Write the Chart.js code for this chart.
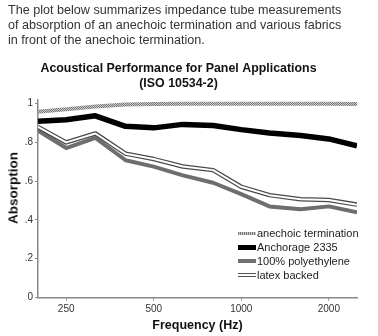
<!DOCTYPE html>
<html>
<head>
<meta charset="utf-8">
<script src="https://cdn.jsdelivr.net/npm/chart.js@4"></script>
<style>
  html, body { margin: 0; padding: 0; background: #fff; }
  #wrap { position: relative; width: 378px; height: 336px; overflow: hidden; font-family: "Liberation Sans", Arial, sans-serif; }
  #chart { position: absolute; left: 0; top: 0; }
  #intro { position: absolute; left: 8px; top: 3px; font-size: 12.6px; line-height: 15px; color: #333; white-space: nowrap; }
  #ytitle { position: absolute; left: 13px; top: 188px; transform: translate(-50%, -50%) rotate(-90deg); font-size: 13.5px; font-weight: bold; color: #111; white-space: nowrap; }
  #legend { position: absolute; left: 238px; top: 226px; font-size: 11px; color: #222; }
  .item { height: 14px; line-height: 14px; display: flex; align-items: center; }
  .sw { width: 18px; margin-right: 1px; box-sizing: border-box; }
  .sw.an { height: 3px; background: repeating-linear-gradient(90deg, #777 0 1px, #c8c8c8 1px 2px); }
  .sw.ak { height: 5px; background: #000; }
  .sw.pe { height: 4px; background: #707070; }
  .sw.lx { height: 4px; border-top: 1px solid #555; border-bottom: 1px solid #555; background: #fff; }
</style>
</head>
<body>
<div id="wrap">
  <canvas id="chart" width="378" height="336"></canvas>
  <div id="intro">The plot below summarizes impedance tube measurements<br>of absorption of an anechoic termination and various fabrics<br>in front of the anechoic termination.</div>
  <div id="ytitle"></div>
  <div id="legend"></div>
</div>
<script>
const freqs = [200, 250, 315, 400, 500, 630, 800, 1000, 1250, 1600, 2000, 2500];
const anechoic = [0.958, 0.971, 0.985, 0.995, 0.998, 1.0, 1.0, 1.0, 1.0, 1.0, 0.999, 0.998];
const anchorage = [0.909, 0.917, 0.937, 0.883, 0.875, 0.893, 0.887, 0.866, 0.849, 0.836, 0.818, 0.783];
const polyethylene = [0.861, 0.771, 0.823, 0.708, 0.675, 0.630, 0.592, 0.533, 0.470, 0.455, 0.470, 0.440];
const latex = [0.880, 0.800, 0.846, 0.742, 0.714, 0.676, 0.657, 0.571, 0.528, 0.507, 0.503, 0.479];
const seriesNames = ['anechoic termination', 'Anchorage 2335', '100% polyethylene', 'latex backed'];
const xTicks = [250, 500, 1000, 2000];
const yTicks = [0, 0.2, 0.4, 0.6, 0.8, 1];
const chartTitle = ['Acoustical Performance for Panel Applications', '(ISO 10534-2)'];
const xTitle = 'Frequency (Hz)';
const yTitle = 'Absorption';

document.getElementById('ytitle').textContent = yTitle;

// legend (HTML)
const swClass = ['an', 'ak', 'pe', 'lx'];
const lg = document.getElementById('legend');
seriesNames.forEach((n, i) => {
  const d = document.createElement('div'); d.className = 'item';
  const s = document.createElement('div'); s.className = 'sw ' + swClass[i];
  const t = document.createElement('span'); t.textContent = n;
  d.appendChild(s); d.appendChild(t); lg.appendChild(d);
});

// textured pattern for anechoic line
const pc = document.createElement('canvas'); pc.width = 2; pc.height = 2;
const pctx = pc.getContext('2d');
pctx.fillStyle = '#cdcdcd'; pctx.fillRect(0, 0, 2, 2);
pctx.fillStyle = '#767676'; pctx.fillRect(0, 0, 1, 1); pctx.fillRect(1, 1, 1, 1);
const pattern = pctx.createPattern(pc, 'repeat');

const FONT = '"Liberation Sans", Arial, sans-serif';
const common = { fill: false, pointRadius: 0, tension: 0, borderJoinStyle: 'round', borderCapStyle: 'butt' };

new Chart(document.getElementById('chart'), {
  type: 'line',
  data: {
    labels: freqs,
    datasets: [
      Object.assign({ label: seriesNames[0], data: anechoic, borderColor: pattern, borderWidth: 4, order: 1 }, common),
      Object.assign({ label: seriesNames[1], data: anchorage, borderColor: '#000', borderWidth: 5.5, order: 2 }, common),
      Object.assign({ label: seriesNames[3] + ' core', data: latex, borderColor: '#fff', borderWidth: 2, order: 3 }, common),
      Object.assign({ label: seriesNames[3], data: latex, borderColor: '#4a4a4a', borderWidth: 4.5, order: 4 }, common),
      Object.assign({ label: seriesNames[2], data: polyethylene, borderColor: '#6e6e6e', borderWidth: 4, order: 5 }, common)
    ]
  },
  options: {
    responsive: false,
    animation: false,
    events: [],
    layout: { padding: { left: 0, right: 21, top: 61, bottom: 0 } },
    plugins: {
      legend: { display: false },
      tooltip: { enabled: false },
      title: {
        display: true, text: chartTitle, color: '#111',
        font: { family: FONT, size: 12.4, weight: 'bold', lineHeight: 1.2 },
        padding: { top: 0, bottom: 9 }
      }
    },
    scales: {
      x: {
        type: 'logarithmic', min: 200, max: 2500,
        afterBuildTicks: (s) => { s.ticks = xTicks.map(v => ({ value: v })); },
        afterFit: (s) => { s.height = 38.5; },
        ticks: { color: '#333', font: { family: FONT, size: 10 }, padding: 3, maxRotation: 0, autoSkip: false,
                 callback: (v) => String(v) },
        grid: { display: true, drawOnChartArea: false, drawTicks: true, tickLength: 3, color: '#888', lineWidth: 1 },
        border: { display: true, color: '#888', width: 1.5 },
        title: { display: true, text: xTitle, color: '#111', font: { family: FONT, size: 12.5, weight: 'bold' }, padding: { top: 2, bottom: 3 } }
      },
      y: {
        type: 'linear', min: 0, max: 1.02,
        afterBuildTicks: (s) => { s.ticks = yTicks.map(v => ({ value: v })); },
        afterFit: (s) => { s.width = 38; },
        ticks: { color: '#333', font: { family: FONT, size: 10 }, padding: 2,
                 callback: (v) => (v === 0 ? '0' : v === 1 ? '1' : String(Math.round(v * 10) / 10).replace(/^0/, '')) },
        grid: { display: true, drawOnChartArea: false, drawTicks: true, tickLength: 3, color: '#888', lineWidth: 1 },
        border: { display: true, color: '#888', width: 1.5 },
        title: { display: false }
      }
    }
  }
});
</script>
</body>
</html>
